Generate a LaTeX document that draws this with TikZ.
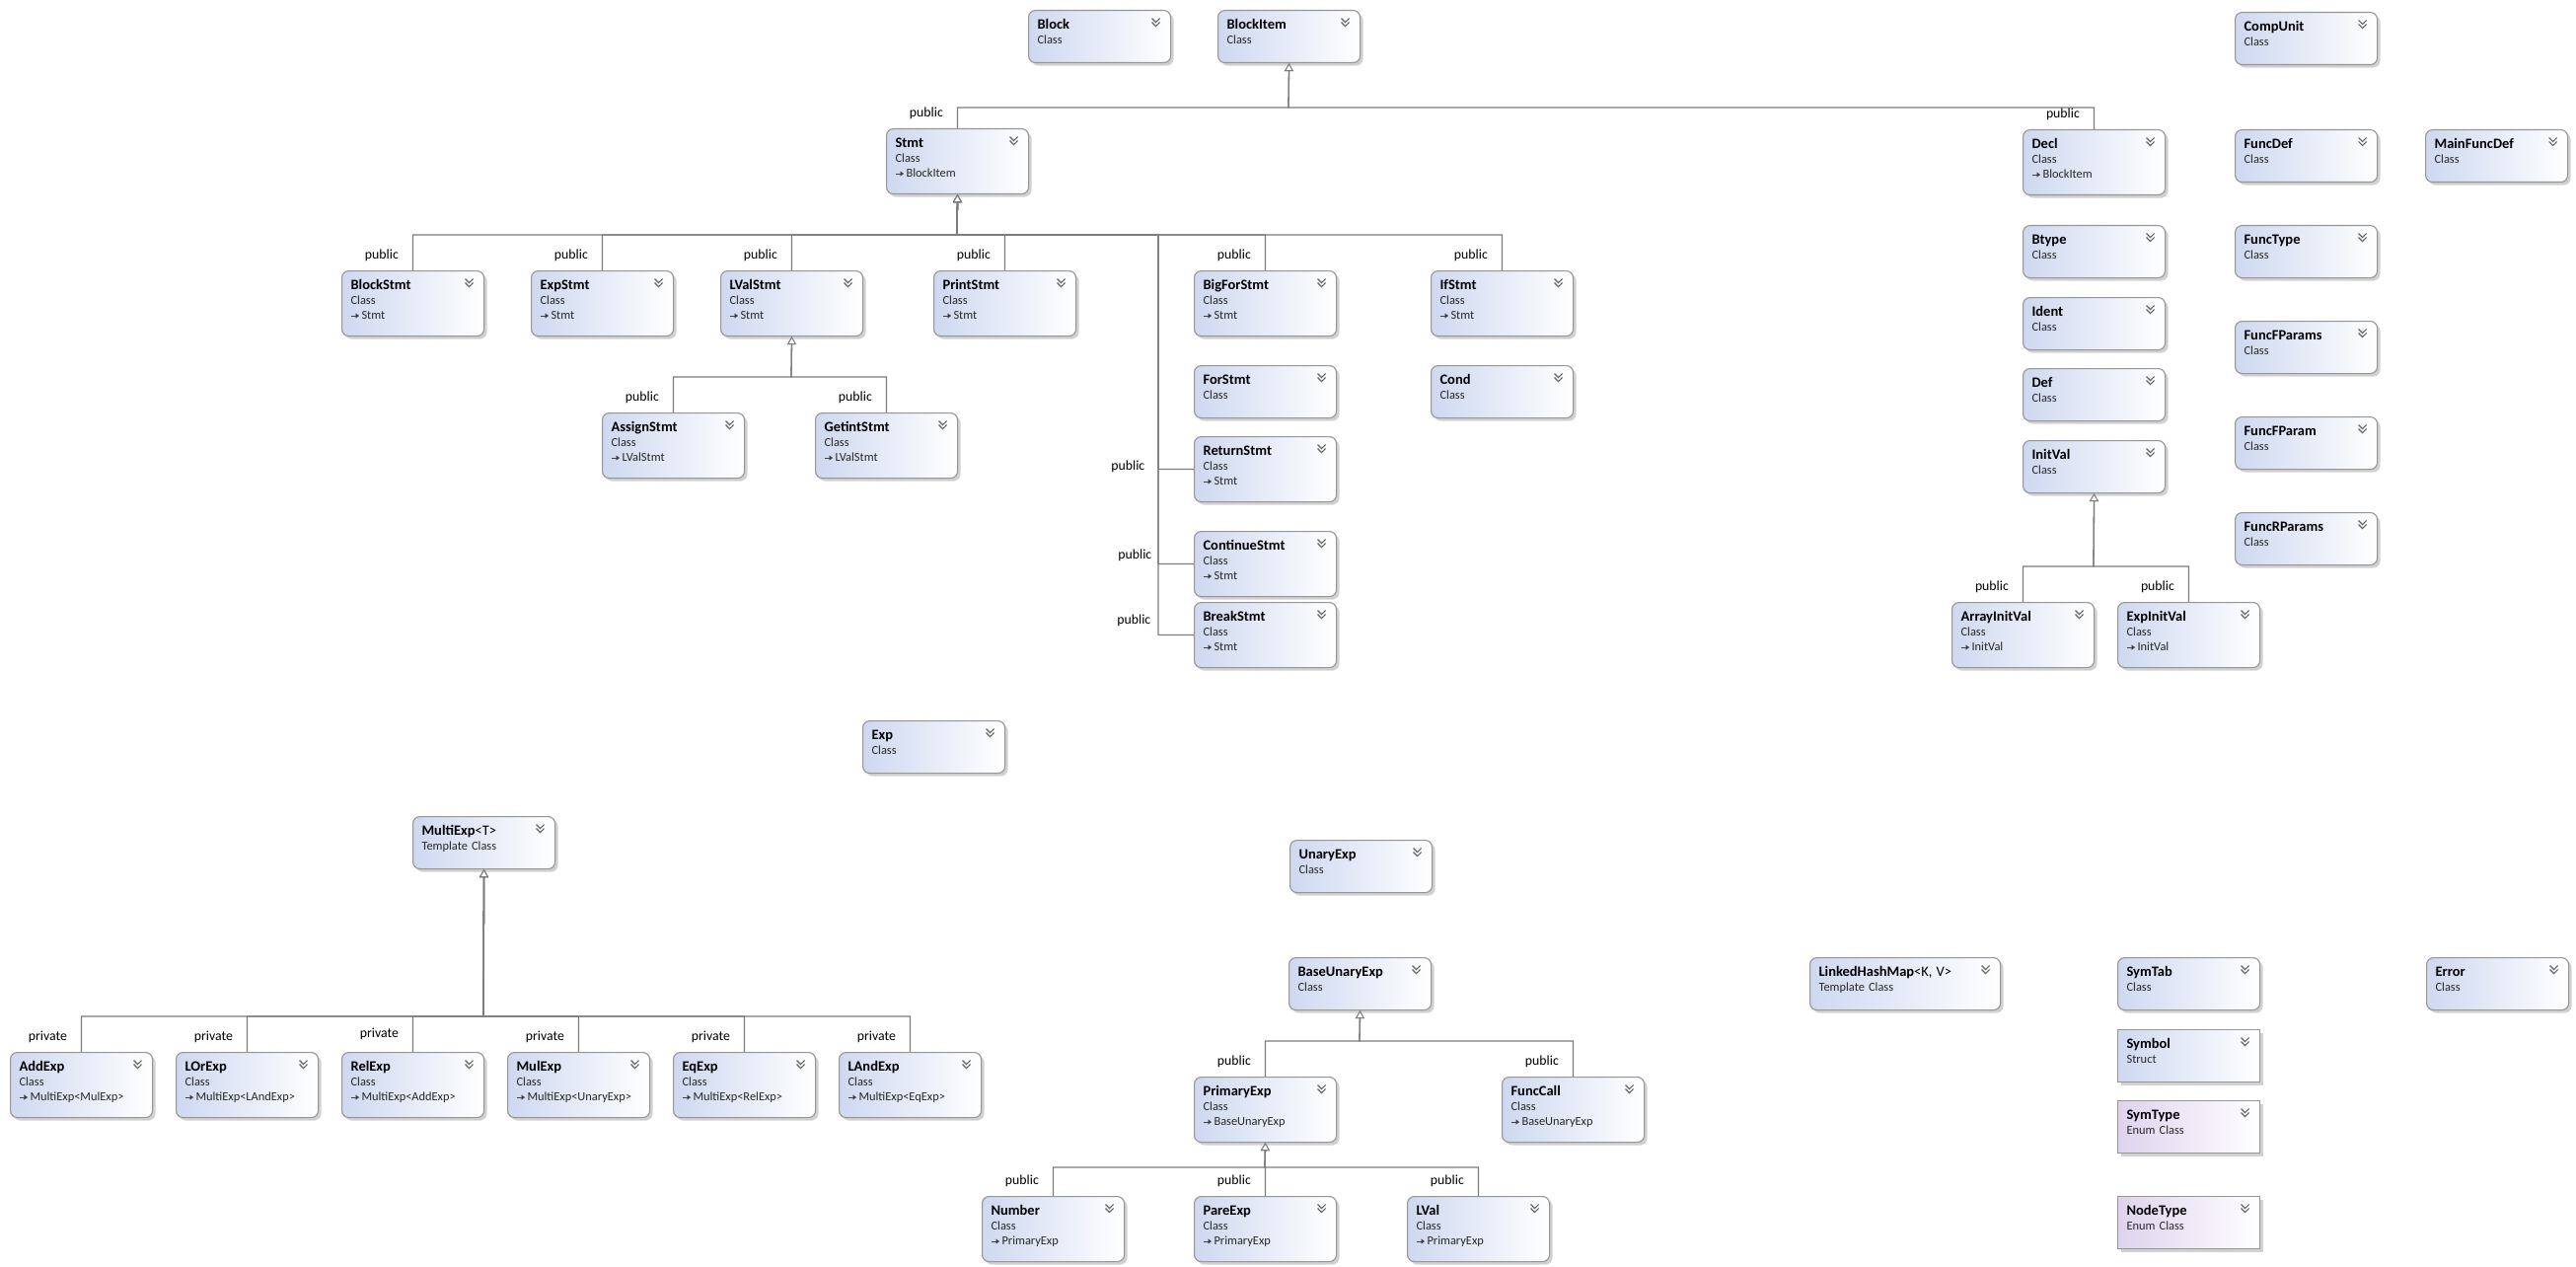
\documentclass[tikz,border=0pt]{standalone}
\usepackage{fontspec}
\setmainfont{Carlito}
\usetikzlibrary{arrows.meta, shadows}

\definecolor{clsblue}{RGB}{206,216,240}
\definecolor{enumlilac}{RGB}{222,211,238}
\definecolor{boxline}{RGB}{150,150,150}
\definecolor{linkgray}{RGB}{125,125,125}
\definecolor{chevgray}{RGB}{100,100,100}
\definecolor{subtext}{RGB}{40,40,40}

\newcommand{\inharr}{\tikz[baseline=-3pt, x=1pt, y=1pt]{\draw[black!75, line width=0.9pt, -{Triangle[length=3.5pt, width=5pt]}] (0,0) -- (8,0);}\,}
\newcommand{\ttl}[1]{{\color{black}\fontsize{14.5}{15}\selectfont\bfseries #1}}
\newcommand{\tmpl}[1]{{\color{black}\fontsize{14.5}{15}\selectfont #1}}

\begin{document}
\begin{tikzpicture}[x=1pt, y=-1pt,
    cls/.style={draw=boxline, line width=1.1pt, rounded corners=7pt,
      left color=clsblue, right color=white,
      drop shadow={shadow xshift=3pt, shadow yshift=-3pt, fill=black!18, opacity=1},
      anchor=north west, inner xsep=9pt, inner ysep=0pt,
      text width=126pt, align=left, text height=18.5pt, text depth=34.5pt,
      font=\fontsize{12.4}{15}\selectfont, text=subtext,
      path picture={\draw[chevgray, line width=1.1pt, sharp corners]
        ([xshift=-19pt, yshift=-8pt]path picture bounding box.north east) -- ++(4pt,-4pt) -- ++(4pt,4pt)
        ([xshift=-19pt, yshift=-12pt]path picture bounding box.north east) -- ++(4pt,-4pt) -- ++(4pt,4pt);}},
    three/.style={text depth=47.5pt},
    wide/.style={text width=175pt},
    structcls/.style={cls, sharp corners},
    enumcls/.style={cls, sharp corners, left color=enumlilac},
    inh/.style={draw=linkgray, line width=1.3pt,
      -{Triangle[fill=white, length=8pt, width=9pt, line width=0.9pt]}},
    lbl/.style={anchor=east, inner sep=0pt, text=black, font=\fontsize{13.8}{16}\selectfont},
    pub/.style={lbl, xshift=-14pt, yshift=15pt}
]

\path[use as bounding box, fill=white] (0,0) rectangle (2611,1284);

% Blocks
\node[cls] (Block) at (1042,10) {\ttl{Block}\\Class};
\node[cls] (BlockItem) at (1234,10) {\ttl{BlockItem}\\Class};
\node[cls] (CompUnit) at (2265,12) {\ttl{CompUnit}\\Class};

% Statements
\node[cls, three] (Stmt) at (898,130) {\ttl{Stmt}\\Class\\\inharr BlockItem};
\node[cls, three] (BlockStmt) at (346,274) {\ttl{BlockStmt}\\Class\\\inharr Stmt};
\node[cls, three] (ExpStmt) at (538,274) {\ttl{ExpStmt}\\Class\\\inharr Stmt};
\node[cls, three] (LValStmt) at (730,274) {\ttl{LValStmt}\\Class\\\inharr Stmt};
\node[cls, three] (PrintStmt) at (946,274) {\ttl{PrintStmt}\\Class\\\inharr Stmt};
\node[cls, three] (BigForStmt) at (1210,274) {\ttl{BigForStmt}\\Class\\\inharr Stmt};
\node[cls, three] (IfStmt) at (1450,274) {\ttl{IfStmt}\\Class\\\inharr Stmt};
\node[cls] (ForStmt) at (1210,370) {\ttl{ForStmt}\\Class};
\node[cls] (Cond) at (1450,370) {\ttl{Cond}\\Class};
\node[cls, three] (ReturnStmt) at (1210,442) {\ttl{ReturnStmt}\\Class\\\inharr Stmt};
\node[cls, three] (ContinueStmt) at (1210,538) {\ttl{ContinueStmt}\\Class\\\inharr Stmt};
\node[cls, three] (BreakStmt) at (1210,610) {\ttl{BreakStmt}\\Class\\\inharr Stmt};
\node[cls, three] (AssignStmt) at (610,418) {\ttl{AssignStmt}\\Class\\\inharr LValStmt};
\node[cls, three] (GetintStmt) at (826,418) {\ttl{GetintStmt}\\Class\\\inharr LValStmt};

% Declarations and functions
\node[cls, three] (Decl) at (2050,131) {\ttl{Decl}\\Class\\\inharr BlockItem};
\node[cls] (Btype) at (2050,228) {\ttl{Btype}\\Class};
\node[cls] (Ident) at (2050,301) {\ttl{Ident}\\Class};
\node[cls] (Def) at (2050,373) {\ttl{Def}\\Class};
\node[cls] (InitVal) at (2050,446) {\ttl{InitVal}\\Class};
\node[cls, three] (ArrayInitVal) at (1978,610) {\ttl{ArrayInitVal}\\Class\\\inharr InitVal};
\node[cls, three] (ExpInitVal) at (2146,610) {\ttl{ExpInitVal}\\Class\\\inharr InitVal};
\node[cls] (FuncDef) at (2265,131) {\ttl{FuncDef}\\Class};
\node[cls] (MainFuncDef) at (2458,131) {\ttl{MainFuncDef}\\Class};
\node[cls] (FuncType) at (2265,228) {\ttl{FuncType}\\Class};
\node[cls] (FuncFParams) at (2265,325) {\ttl{FuncFParams}\\Class};
\node[cls] (FuncFParam) at (2265,422) {\ttl{FuncFParam}\\Class};
\node[cls] (FuncRParams) at (2265,519) {\ttl{FuncRParams}\\Class};

% Expressions
\node[cls] (Exp) at (874,730) {\ttl{Exp}\\Class};
\node[cls] (MultiExp) at (418,827) {\ttl{MultiExp}\tmpl{<T>}\\Template Class};
\node[cls] (UnaryExp) at (1307,851) {\ttl{UnaryExp}\\Class};
\node[cls] (BaseUnaryExp) at (1306,970) {\ttl{BaseUnaryExp}\\Class};
\node[cls, three] (AddExp) at (10,1066) {\ttl{AddExp}\\Class\\\inharr MultiExp<MulExp>};
\node[cls, three] (LOrExp) at (178,1066) {\ttl{LOrExp}\\Class\\\inharr MultiExp<LAndExp>};
\node[cls, three] (RelExp) at (346,1066) {\ttl{RelExp}\\Class\\\inharr MultiExp<AddExp>};
\node[cls, three] (MulExp) at (514,1066) {\ttl{MulExp}\\Class\\\inharr MultiExp<UnaryExp>};
\node[cls, three] (EqExp) at (682,1066) {\ttl{EqExp}\\Class\\\inharr MultiExp<RelExp>};
\node[cls, three] (LAndExp) at (850,1066) {\ttl{LAndExp}\\Class\\\inharr MultiExp<EqExp>};
\node[cls, three] (PrimaryExp) at (1210,1091) {\ttl{PrimaryExp}\\Class\\\inharr BaseUnaryExp};
\node[cls, three] (FuncCall) at (1522,1091) {\ttl{FuncCall}\\Class\\\inharr BaseUnaryExp};
\node[cls, three] (Number) at (995,1212) {\ttl{Number}\\Class\\\inharr PrimaryExp};
\node[cls, three] (PareExp) at (1210,1212) {\ttl{PareExp}\\Class\\\inharr PrimaryExp};
\node[cls, three] (LVal) at (1426,1212) {\ttl{LVal}\\Class\\\inharr PrimaryExp};

% Symbol table
\node[cls, wide] (LinkedHashMap) at (1834,970) {\ttl{LinkedHashMap}\tmpl{<K, V>}\\Template Class};
\node[cls] (SymTab) at (2146,970) {\ttl{SymTab}\\Class};
\node[cls] (Error) at (2459,970) {\ttl{Error}\\Class};
\node[structcls] (Symbol) at (2146,1043) {\ttl{Symbol}\\Struct};
\node[enumcls] (SymType) at (2146,1115) {\ttl{SymType}\\Enum Class};
\node[enumcls] (NodeType) at (2146,1212) {\ttl{NodeType}\\Enum Class};

% Bus points
\coordinate (itembus) at (1306,109);
\coordinate (stmtbus) at (970,238);
\coordinate (stmttrunk) at (1174,238);
\coordinate (lvalbus) at (802,382);
\coordinate (initbus) at (2122,574);
\coordinate (multibus) at (490,1030);
\coordinate (basebus) at (1378,1055);
\coordinate (primbus) at (1282,1183);

% Inheritance
\draw[inh] (Stmt.north) node[pub] (pStmt) {public} |- (itembus) -- (BlockItem.south);
\draw[inh] (Decl.north) node[pub] (pDecl) {public} |- (itembus) -- (BlockItem.south);

\draw[inh] (BlockStmt.north) node[pub] (pBlockStmt) {public} |- (stmtbus) -- (Stmt.south);
\draw[inh] (ExpStmt.north) node[pub] (pExpStmt) {public} |- (stmtbus) -- (Stmt.south);
\draw[inh] (LValStmt.north) node[pub] (pLValStmt) {public} |- (stmtbus) -- (Stmt.south);
\draw[inh] (PrintStmt.north) node[pub] (pPrintStmt) {public} |- (stmtbus) -- (Stmt.south);
\draw[inh] (BigForStmt.north) node[pub] (pBigForStmt) {public} |- (stmtbus) -- (Stmt.south);
\draw[inh] (IfStmt.north) node[pub] (pIfStmt) {public} |- (stmtbus) -- (Stmt.south);
\draw[inh] (ReturnStmt.west) node[lbl, xshift=-49pt, yshift=3pt] (pReturnStmt) {public}
  -| (stmttrunk) -- (stmtbus) -- (Stmt.south);
\draw[inh] (ContinueStmt.west) node[lbl, xshift=-42pt, yshift=9pt] (pContinueStmt) {public}
  -| (stmttrunk) -- (stmtbus) -- (Stmt.south);
\draw[inh] (BreakStmt.west) node[lbl, xshift=-43pt, yshift=15pt] (pBreakStmt) {public}
  -| (stmttrunk) -- (stmtbus) -- (Stmt.south);

\draw[inh] (AssignStmt.north) node[pub] (pAssignStmt) {public} |- (lvalbus) -- (LValStmt.south);
\draw[inh] (GetintStmt.north) node[pub] (pGetintStmt) {public} |- (lvalbus) -- (LValStmt.south);

\draw[inh] (ArrayInitVal.north) node[pub] (pArrayInitVal) {public} |- (initbus) -- (InitVal.south);
\draw[inh] (ExpInitVal.north) node[pub] (pExpInitVal) {public} |- (initbus) -- (InitVal.south);

\draw[inh] (AddExp.north) node[pub] (pAddExp) {private} |- (multibus) -- (MultiExp.south);
\draw[inh] (LOrExp.north) node[pub] (pLOrExp) {private} |- (multibus) -- (MultiExp.south);
\draw[inh] (RelExp.north) node[pub, yshift=3pt] (pRelExp) {private} |- (multibus) -- (MultiExp.south);
\draw[inh] (MulExp.north) node[pub] (pMulExp) {private} |- (multibus) -- (MultiExp.south);
\draw[inh] (EqExp.north) node[pub] (pEqExp) {private} |- (multibus) -- (MultiExp.south);
\draw[inh] (LAndExp.north) node[pub] (pLAndExp) {private} |- (multibus) -- (MultiExp.south);

\draw[inh] (PrimaryExp.north) node[pub] (pPrimaryExp) {public} |- (basebus) -- (BaseUnaryExp.south);
\draw[inh] (FuncCall.north) node[pub] (pFuncCall) {public} |- (basebus) -- (BaseUnaryExp.south);

\draw[inh] (Number.north) node[pub] (pNumber) {public} |- (primbus) -- (PrimaryExp.south);
\draw[inh] (PareExp.north) node[pub] (pPareExp) {public} |- (primbus) -- (PrimaryExp.south);
\draw[inh] (LVal.north) node[pub] (pLVal) {public} |- (primbus) -- (PrimaryExp.south);

\end{tikzpicture}
\end{document}
